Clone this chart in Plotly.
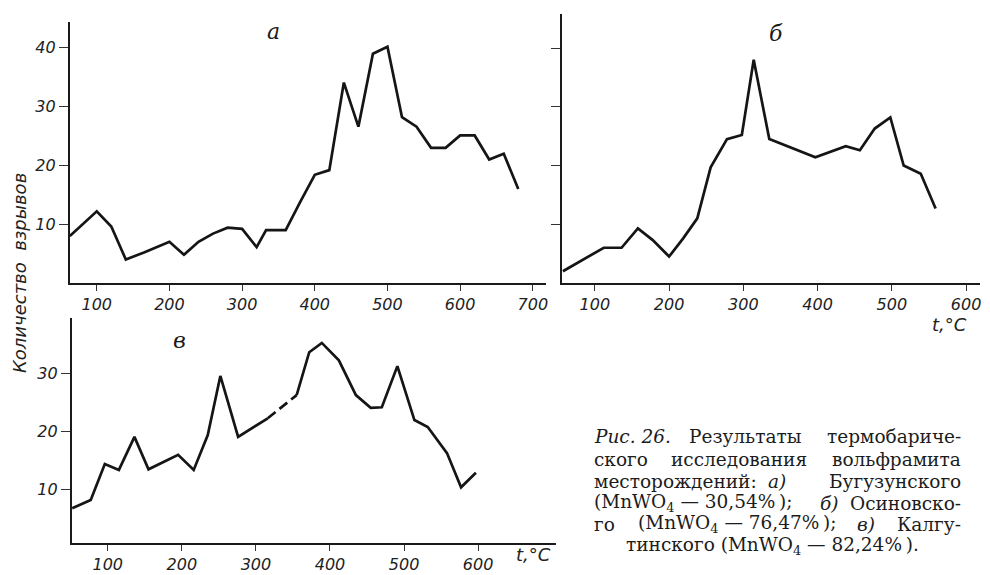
import plotly.graph_objects as go

# ---------------- data ----------------
a_t = [63, 100, 120, 140, 165, 200, 220, 240, 260, 280, 300, 320, 333, 360, 380, 400, 420, 440, 460, 480, 500, 520, 540, 560, 580, 600, 620, 640, 660, 680]
a_n = [8.0, 12.2, 9.6, 4.0, 5.2, 7.0, 4.8, 7.0, 8.4, 9.4, 9.2, 6.1, 9.0, 9.0, 13.8, 18.4, 19.2, 34.1, 26.6, 39.0, 40.2, 28.2, 26.6, 23.0, 23.0, 25.1, 25.1, 21.0, 22.0, 16.0]

b_t = [57, 112, 136, 158, 178, 200, 219, 238, 256, 278, 298, 314, 335, 397, 438, 457, 477, 498, 516, 539, 559]
b_n = [2.0, 6.0, 6.0, 9.3, 7.3, 4.5, 7.6, 11.0, 19.7, 24.5, 25.2, 38.0, 24.5, 21.4, 23.3, 22.6, 26.3, 28.2, 20.0, 18.6, 12.7]

v_t = [52, 77, 96, 115, 136, 155, 195, 216, 235, 252, 276, 316, 355, 372, 389, 412, 435, 455, 470, 491, 514, 532, 558, 577, 597]
v_n = [6.7, 8.1, 14.3, 13.3, 19.0, 13.4, 15.9, 13.3, 19.3, 29.5, 19.0, 22.2, 26.2, 33.6, 35.2, 32.2, 26.2, 24.0, 24.1, 31.2, 21.9, 20.7, 16.2, 10.3, 12.8]
v_dashed_from = 316   # segment 316 -> 355 is drawn dashed
v_dashed_to = 355

a_xticks = [100, 200, 300, 400, 500, 600, 700]
b_xticks = [100, 200, 300, 400, 500, 600]
v_xticks = [100, 200, 300, 400, 500, 600]
ab_yticks = [10, 20, 30, 40]
v_yticks = [10, 20, 30]

y_title = "Количество\u00a0\u00a0взрывов"
x_title = "t,°C"
panel_labels = ["а", "б", "в"]

# (text, x pixel, anchor)
caption_lines = [
    [("<i>Рис. 26.</i>", 593, "left"), ("Результаты", 688, "left"), ("термобариче-", 965, "right")],
    [("ского", 593, "left"), ("исследования", 670, "left"), ("вольфрамита", 965, "right")],
    [("месторождений:", 593, "left"), ("<i>а)</i>", 768, "left"), ("Бугузунского", 965, "right")],
    [("(MnWO<sub>4</sub> — 30,54%\u2009);", 593, "left"), ("<i>б)</i>", 820, "left"), ("Осиновско-", 965, "right")],
    [("го", 593, "left"), ("(MnWO<sub>4</sub> — 76,47%\u2009);", 637, "left"),
     ("<i>в)</i>", 857, "left"), ("Калгу-", 965, "right")],
    [("тинского (MnWO<sub>4</sub> — 82,24%\u2009).", 625, "left")],
]
caption_y = [436, 459, 481, 503, 524, 546]

# ---------------- helpers ----------------
W, H = 990, 575
def px(x):
    return x / W
def py(y):
    return 1 - y / H

LINE = dict(color="#151515", width=2.7)
TICKFONT = dict(family="DejaVu Sans", size=16, color="#222", style="italic")

fig = go.Figure()

fig.add_trace(go.Scatter(x=a_t, y=a_n, mode="lines", line=LINE, xaxis="x", yaxis="y", showlegend=False))
fig.add_trace(go.Scatter(x=b_t, y=b_n, mode="lines", line=LINE, xaxis="x2", yaxis="y2", showlegend=False))

# panel в: solid with a gap, plus dashed bridge
sx, sy = [], []
for t, n in zip(v_t, v_n):
    sx.append(t); sy.append(n)
    if t == v_dashed_from:
        sx.append(None); sy.append(None)
i0 = v_t.index(v_dashed_from)
i1 = v_t.index(v_dashed_to)
fig.add_trace(go.Scatter(x=sx, y=sy, mode="lines", line=LINE, xaxis="x3", yaxis="y3",
                         connectgaps=False, showlegend=False))
fig.add_trace(go.Scatter(x=[v_t[i0], v_t[i1]], y=[v_n[i0], v_n[i1]], mode="lines",
                         line=dict(color="#151515", width=2.7, dash="10px,5px"),
                         xaxis="x3", yaxis="y3", showlegend=False))

def xax(domain, rng, ticks, anchor):
    return dict(domain=domain, range=rng, tickvals=ticks, ticktext=[str(t) for t in ticks],
                showline=True, linecolor="#1a1a1a", linewidth=2, ticks="outside",
                ticklen=6, tickwidth=1.3, tickcolor="#333", showgrid=False, zeroline=False,
                tickfont=TICKFONT, anchor=anchor, fixedrange=True)

def yax(domain, rng, ticks, anchor, labels=True):
    return dict(domain=domain, range=rng, tickvals=ticks, ticktext=[str(t) for t in ticks],
                showticklabels=labels,
                showline=True, linecolor="#1a1a1a", linewidth=2, ticks="outside",
                ticklen=9, tickwidth=1.3, tickcolor="#333", showgrid=False, zeroline=False,
                tickfont=TICKFONT, anchor=anchor, fixedrange=True)

annotations = []
def ann(text, x, y, size, family="DejaVu Sans", style="normal", xanchor="center", angle=0, color="#1a1a1a"):
    annotations.append(dict(text=text, x=px(x), y=py(y), xref="paper", yref="paper",
                            xanchor=xanchor, yanchor="middle", showarrow=False, textangle=angle,
                            font=dict(family=family, size=size, color=color, style=style)))

ann(panel_labels[0], 274, 32, 22, family="DejaVu Serif", style="italic")
ann(panel_labels[1], 778, 33, 22, family="DejaVu Serif", style="italic")
ann(panel_labels[2], 180, 340, 22, family="DejaVu Serif", style="italic")
ann(y_title, 19, 273, 18, style="italic", angle=-90, color="#222")
ann(x_title, 951, 324, 18, style="italic", color="#222")
ann(x_title, 535, 554, 18, style="italic", color="#222")

for line, yy in zip(caption_lines, caption_y):
    for text, xx, anc in line:
        ann(text, xx, yy, 18.5, family="DejaVu Serif", xanchor=anc, color="#1c1c1c")

fig.update_layout(
    width=W, height=H, margin=dict(l=0, r=0, t=0, b=0),
    paper_bgcolor="white", plot_bgcolor="white",
    xaxis=xax([px(70), px(547)], [63, 718], a_xticks, "y"),
    yaxis=yax([py(283), py(22)], [0, 44.4], ab_yticks, "x"),
    xaxis2=xax([px(563), px(982)], [55.6, 618.8], b_xticks, "y2"),
    yaxis2=yax([py(283), py(14)], [0, 45.8], ab_yticks, "x2", labels=False),
    xaxis3=xax([px(72), px(557)], [51.5, 705], v_xticks, "y3"),
    yaxis3=yax([py(543), py(318)], [0.69, 39.5], v_yticks, "x3"),
    annotations=annotations,
)

fig.write_html("out.html", config={"displayModeBar": False},
               post_script="document.body.style.margin='0';")
